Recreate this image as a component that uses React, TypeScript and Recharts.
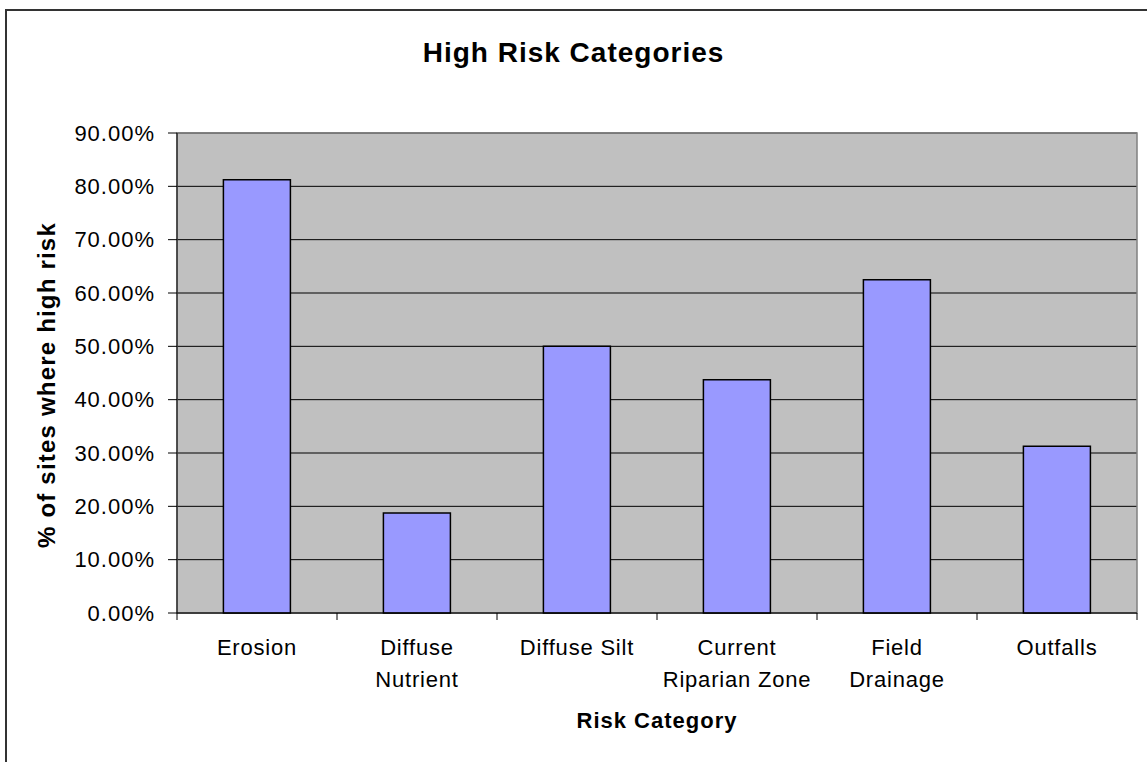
import { BarChart, Bar, XAxis, YAxis, CartesianGrid, ReferenceArea } from 'recharts'

const categories = ['Erosion', 'Diffuse\nNutrient', 'Diffuse Silt', 'Current\nRiparian Zone', 'Field\nDrainage', 'Outfalls']
const highRiskShare = [0.8125, 0.1875, 0.5, 0.4375, 0.625, 0.3125]
const yTicks = [0, 0.1, 0.2, 0.3, 0.4, 0.5, 0.6, 0.7, 0.8, 0.9]

const data = categories.map((name, i) => ({ name, value: highRiskShare[i] }))

const FONT = '"Liberation Sans", Arial, sans-serif'

function CategoryTick(props: any) {
    const { x, y, payload, index, visibleTicksCount } = props
    const half = payload.offset || 80
    const lines = String(payload.value).split('\n')
    return (
        <g>
            <line x1={x - half} x2={x - half} y1={y} y2={y + 7} stroke="#000" />
            {index === visibleTicksCount - 1 && (
                <line x1={x + half} x2={x + half} y1={y} y2={y + 7} stroke="#000" />
            )}
            <text x={x} y={y + 42} textAnchor="middle" fontSize={22} fill="#000" fontFamily={FONT} letterSpacing={0.8}>
                {lines.map((l, i) => (
                    <tspan key={i} x={x} dy={i === 0 ? 0 : 32}>
                        {l}
                    </tspan>
                ))}
            </text>
        </g>
    )
}

export default function App() {
    return (
        <div style={{ position: 'absolute', left: 0, top: 0, width: 1147, height: 762, overflow: 'hidden', background: '#fff', fontFamily: FONT }}>
            <div style={{ position: 'absolute', left: 5, top: 9, width: 1200, height: 800, border: '2px solid #333' }} />
            <div style={{ position: 'absolute', left: 0, top: 37, width: 1147, textAlign: 'center', fontSize: 28, fontWeight: 'bold', letterSpacing: 1, color: '#000' }}>
                High Risk Categories
            </div>
            <div style={{ position: 'absolute', left: 657 - 200, top: 708, width: 400, textAlign: 'center', fontSize: 22, fontWeight: 'bold', letterSpacing: 1, color: '#000' }}>
                Risk Category
            </div>
            <div
                style={{
                    position: 'absolute',
                    left: 47 - 200,
                    top: 385 - 14,
                    width: 400,
                    height: 28,
                    lineHeight: '28px',
                    textAlign: 'center',
                    fontSize: 24,
                    fontWeight: 'bold',
                    letterSpacing: 1.2,
                    color: '#000',
                    transform: 'rotate(-90deg)',
                }}
            >
                % of sites where high risk
            </div>
            <div style={{ position: 'absolute', left: 0, top: 0 }}>
                <BarChart width={1147} height={762} data={data} margin={{ top: 133, right: 10, bottom: 0, left: 0 }} barCategoryGap="29%">
                    <CartesianGrid vertical={false} stroke="#000" fill="#C0C0C0" fillOpacity={1} />
                    <ReferenceArea y1={0} y2={0.9} fill="none" stroke="#808080" strokeWidth={1.5} />
                    <XAxis
                        dataKey="name"
                        height={149}
                        stroke="#000"
                        tickLine={false}
                        tickSize={0}
                        tickMargin={0}
                        interval={0}
                        tick={<CategoryTick />}
                    />
                    <YAxis
                        width={177}
                        domain={[0, 0.9]}
                        ticks={yTicks}
                        interval={0}
                        stroke="#000"
                        tickSize={9}
                        tickMargin={13}
                        tick={{ fill: '#000', fontSize: 22, fontFamily: FONT, letterSpacing: 1 }}
                        tickFormatter={(v: number) => (v * 100).toFixed(2) + '%'}
                    />
                    <Bar dataKey="value" fill="#9999FF" stroke="#000" strokeWidth={1.5} isAnimationActive={false} />
                </BarChart>
            </div>
        </div>
    )
}
